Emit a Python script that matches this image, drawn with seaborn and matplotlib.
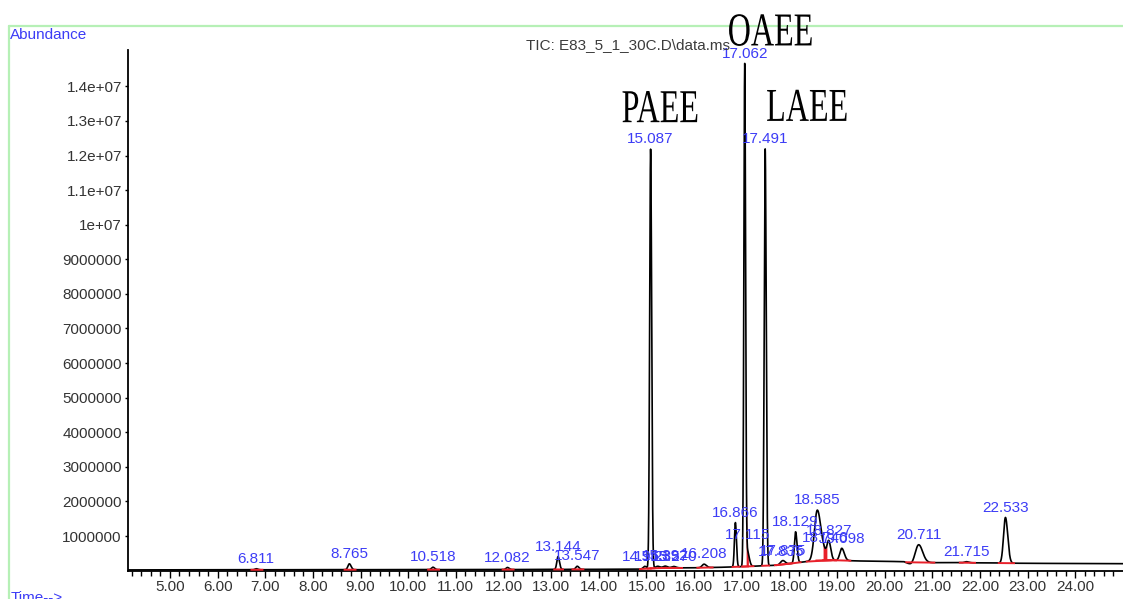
import numpy as np
import pandas as pd
import matplotlib
matplotlib.use("Agg")
import matplotlib.pyplot as plt
import seaborn as sns
from matplotlib.lines import Line2D
from matplotlib.patheffects import AbstractPathEffect
from matplotlib.transforms import Affine2D

# ---- peak table (retention time in min, height above baseline, width) ----
peak_rt = [6.811, 8.765, 10.518, 12.082, 13.144, 13.547, 14.963, 15.087,
           15.232, 15.392, 15.570, 16.208, 16.866, 17.062, 17.115, 17.491,
           17.835, 17.875, 18.129, 18.585, 18.746, 18.827, 19.098, 20.711,
           21.715, 22.533]
peak_height = [0.03e6, 0.17e6, 0.07e6, 0.06e6, 0.37e6, 0.09e6, 0.07e6, 12.12e6,
               0.05e6, 0.05e6, 0.04e6, 0.10e6, 1.28e6, 14.45e6, 0.45e6, 12.05e6,
               0.06e6, 0.07e6, 0.90e6, 1.45e6, 0.15e6, 0.50e6, 0.35e6, 0.55e6,
               0.03e6, 1.32e6]
peak_sigma = [0.03, 0.03, 0.03, 0.03, 0.025, 0.03, 0.03, 0.02,
              0.04, 0.04, 0.04, 0.04, 0.02, 0.018, 0.03, 0.02,
              0.04, 0.04, 0.025, 0.06, 0.05, 0.035, 0.04, 0.07,
              0.04, 0.04]
peak_tail = [1.2, 1.2, 1.2, 1.2, 1.2, 1.2, 1.2, 1.1,
             1.2, 1.2, 1.2, 1.2, 1.1, 1.0, 1.3, 1.1,
             1.2, 1.2, 1.2, 1.3, 1.2, 1.2, 1.3, 1.2,
             1.2, 1.2]
shoulder_rt = [17.115, 18.746]

# ---- baseline drift of the TIC ----
baseline_rt = [4.12, 12.0, 14.8, 15.3, 16.0, 16.7, 17.3, 17.8, 18.0, 18.35,
               18.6, 19.0, 19.4, 19.8, 20.4, 20.55, 20.9, 21.5, 23.0, 25.0]
baseline_level = [0.02e6, 0.03e6, 0.04e6, 0.08e6, 0.08e6, 0.10e6, 0.13e6, 0.16e6,
                  0.20e6, 0.26e6, 0.30e6, 0.30e6, 0.28e6, 0.27e6, 0.26e6, 0.17e6,
                  0.23e6, 0.23e6, 0.21e6, 0.20e6]

# ---- named compounds ----
compound_names = ["PAEE", "OAEE", "LAEE"]
compound_rt = [15.087, 17.062, 17.491]
compound_offset_px = [(-29, 27), (-17, 18), (1, 28)]

# ---- axis ticks ----
xtick_values = [5, 6, 7, 8, 9, 10, 11, 12, 13, 14, 15, 16, 17, 18, 19, 20,
                21, 22, 23, 24]
xtick_labels = ["5.00", "6.00", "7.00", "8.00", "9.00", "10.00", "11.00",
                "12.00", "13.00", "14.00", "15.00", "16.00", "17.00", "18.00",
                "19.00", "20.00", "21.00", "22.00", "23.00", "24.00"]
ytick_values = [1e6, 2e6, 3e6, 4e6, 5e6, 6e6, 7e6, 8e6, 9e6, 1e7,
                1.1e7, 1.2e7, 1.3e7, 1.4e7]
ytick_labels = ["1000000", "2000000", "3000000", "4000000", "5000000",
                "6000000", "7000000", "8000000", "9000000", "1e+07",
                "1.1e+07", "1.2e+07", "1.3e+07", "1.4e+07"]

LABEL_BLUE = "#3c3cf6"
INTEG_RED = "#e8202a"
TEXT_GREY = "#333333"
FRAME_GREEN = "#b6f0b6"


class Condensed(AbstractPathEffect):
    """Draw glyph outlines squeezed horizontally about the text anchor."""

    def __init__(self, sx):
        super().__init__()
        self.sx = sx

    def draw_path(self, renderer, gc, tpath, affine, rgbFace=None):
        renderer.draw_path(gc, tpath, Affine2D().scale(self.sx, 1.0) + affine,
                           rgbFace)


sns.set_style("ticks")
plt.rcParams["font.family"] = ["Liberation Sans", "DejaVu Sans"]

# ---- build the trace ----
t = np.linspace(4.12, 25.0, 40000)
base = np.interp(t, baseline_rt, baseline_level)
signal = base.copy()
for rt, h, s, k in zip(peak_rt, peak_height, peak_sigma, peak_tail):
    width = np.where(t < rt, s, s * k)
    signal += h * np.exp(-0.5 * ((t - rt) / width) ** 2)

trace = pd.DataFrame({"time": t, "abundance": signal})

fig = plt.figure(figsize=(11.23, 5.99), dpi=100)
ax = fig.add_axes([128 / 1123, 28.4 / 599, 1 - 128 / 1123, 520.6 / 599])

# integration marks (drawn under and over the trace)
for rt, s in zip(peak_rt, peak_sigma):
    lo, hi = rt - 4 * s, rt + 5 * s
    ax.plot([lo, hi], [np.interp(lo, t, base), np.interp(hi, t, base)],
            color=INTEG_RED, lw=1.4, zorder=3, clip_on=False,
            solid_capstyle="butt")
for rt, s in zip(peak_rt, peak_sigma):
    if rt in shoulder_rt:
        m = np.abs(t - rt) < 0.8 * s
        ax.fill_between(t[m], base[m], signal[m], color=INTEG_RED, lw=0,
                        zorder=1)

sns.lineplot(data=trace, x="time", y="abundance", ax=ax, color="black",
             linewidth=1.2, estimator=None, errorbar=None, sort=False,
             zorder=2)

# retention-time labels
for rt in peak_rt:
    ax.annotate(f"{rt:.3f}", xy=(rt, np.interp(rt, t, signal)),
                xytext=(0, 2), textcoords="offset points", ha="center",
                va="bottom", fontsize=11, color=LABEL_BLUE,
                annotation_clip=False, zorder=4)

# compound names
for name, rt, off in zip(compound_names, compound_rt, compound_offset_px):
    ax.annotate(name, xy=(rt, np.interp(rt, t, signal)), xytext=off,
                textcoords="offset pixels", ha="left", va="baseline",
                fontsize=34, family="Liberation Serif", color="black",
                annotation_clip=False, zorder=5,
                path_effects=[Condensed(0.68)])

# axes styling
ax.set_xlim(4.12, 25.0)
ax.set_ylim(0, 15.05e6)
ax.set_xticks(xtick_values, xtick_labels)
ax.set_xticks(np.arange(4.2, 25.0, 0.2), minor=True)
ax.set_yticks(ytick_values, ytick_labels)
ax.set_xlabel("")
ax.set_ylabel("")
for side in ("top", "right"):
    ax.spines[side].set_visible(False)
for side in ("left", "bottom"):
    ax.spines[side].set_linewidth(1.3)
    ax.spines[side].set_color("black")
ax.tick_params(axis="x", which="major", length=5, width=1.0, pad=2,
               labelsize=11, labelcolor=TEXT_GREY, color="black")
ax.tick_params(axis="x", which="minor", length=3.4, width=1.0, color="black")
ax.tick_params(axis="y", which="major", length=2.5, width=1.0, pad=2,
               labelsize=11, labelcolor=TEXT_GREY, color="black")
ax.patch.set_alpha(0)

# instrument frame and header texts
fig.add_artist(Line2D([9 / 1123, 9 / 1123], [0, 573 / 599],
                      transform=fig.transFigure, color=FRAME_GREEN, lw=1.6,
                      zorder=0))
fig.add_artist(Line2D([9 / 1123, 1.0], [573 / 599, 573 / 599],
                      transform=fig.transFigure, color=FRAME_GREEN, lw=1.6,
                      zorder=0))
fig.text(10 / 1123, (599 - 35) / 599, "Abundance", ha="left", va="center",
         fontsize=11, color=LABEL_BLUE)
fig.text(11 / 1123, (599 - 591) / 599, "Time-->", ha="left", va="top",
         fontsize=11, color=LABEL_BLUE)
fig.text(730 / 1123, (599 - 45) / 599, "TIC: E83_5_1_30C.D\\data.ms",
         ha="right", va="center", fontsize=11, color="#3c3c3c")

fig.savefig("out.png", dpi=100)
